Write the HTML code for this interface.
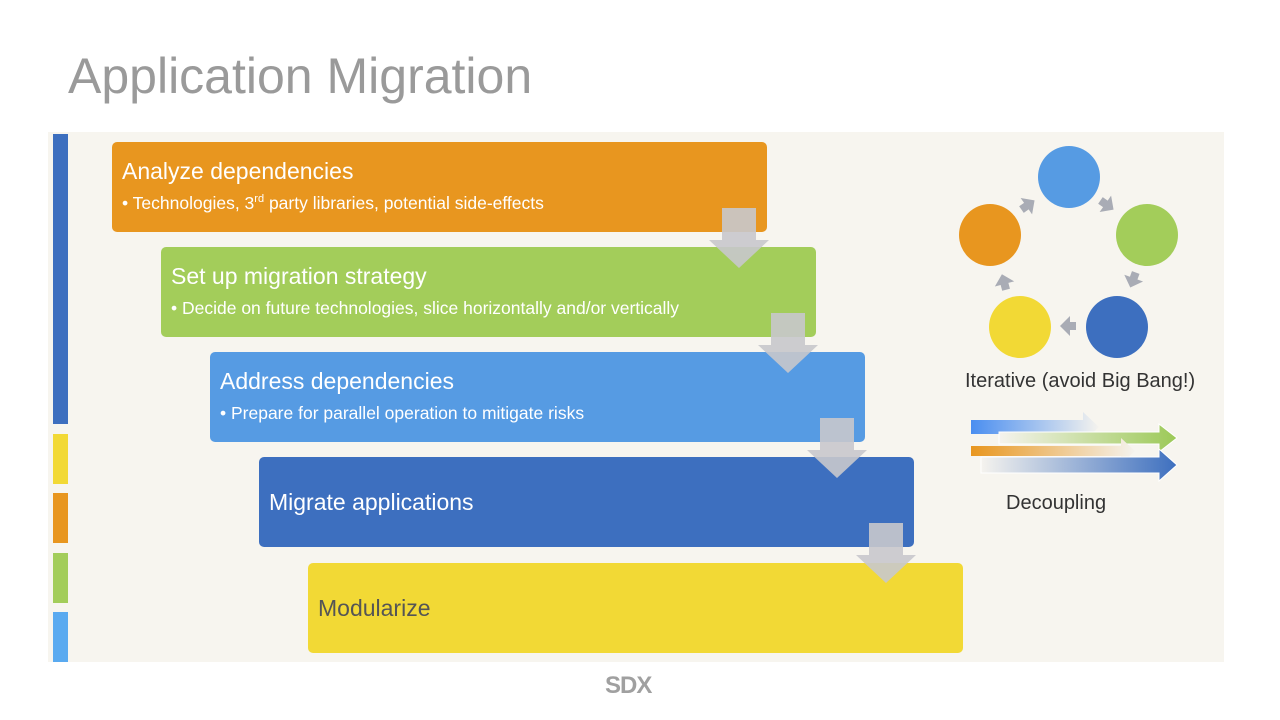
<!DOCTYPE html>
<html><head><style>
body{margin:0;width:1280px;height:720px;background:#fff;position:relative;overflow:hidden;font-family:"Liberation Sans",sans-serif}
.a{position:absolute}
.box{position:absolute;width:655px;height:90px;border-radius:5px;color:#fff;box-sizing:border-box;padding-left:10px}
.t{font-size:23px;margin-top:16px}
.s{font-size:17.5px;margin-top:8px}
</style></head><body>
<div class="a" style="left:68px;top:47px;font-size:50px;color:#9a9a9a">Application Migration</div>
<div class="a" style="left:48px;top:132px;width:1176px;height:530px;background:#f7f5ef"></div>
<div class="a" style="left:53px;top:134px;width:15px;height:290px;background:#3d6fbf"></div>
<div class="a" style="left:53px;top:434px;width:15px;height:50px;background:#f2d935"></div>
<div class="a" style="left:53px;top:493px;width:15px;height:50px;background:#e8961f"></div>
<div class="a" style="left:53px;top:553px;width:15px;height:50px;background:#a3cd5a"></div>
<div class="a" style="left:53px;top:612px;width:15px;height:50px;background:#5aaaf0"></div>

<div class="box" style="left:112px;top:142px;background:#e8961f"><div class="t">Analyze dependencies</div><div class="s">• Technologies, 3<sup style="font-size:11px">rd</sup> party libraries, potential side-effects</div></div>
<div class="box" style="left:161px;top:247px;background:#a3cd5a"><div class="t">Set up migration strategy</div><div class="s">• Decide on future technologies, slice horizontally and/or vertically</div></div>
<div class="box" style="left:210px;top:352px;background:#569be3"><div class="t">Address dependencies</div><div class="s">• Prepare for parallel operation to mitigate risks</div></div>
<div class="box" style="left:259px;top:457px;background:#3d6fbf"><div class="t" style="margin-top:32px">Migrate applications</div></div>
<div class="box" style="left:308px;top:563px;background:#f2d935;color:#555"><div class="t" style="margin-top:32px">Modularize</div></div>

<svg class="a" style="left:0;top:0" width="1280" height="720">
<defs>
<path id="ar" d="M-8 -4h6v-6l10 10l-10 10v-6h-6z"/>
<linearGradient id="g1"><stop offset="0" stop-color="#4a8ef0"/><stop offset="1" stop-color="#f5f3ee"/></linearGradient>
<linearGradient id="g2"><stop offset="0" stop-color="#f5f3ee"/><stop offset="1" stop-color="#9cc957"/></linearGradient>
<linearGradient id="g3"><stop offset="0" stop-color="#e8961f"/><stop offset="1" stop-color="#f5f3ee"/></linearGradient>
<linearGradient id="g4"><stop offset="0" stop-color="#f5f3ee"/><stop offset="1" stop-color="#3d6fbf"/></linearGradient>
</defs>
<g fill="#c8c8cc" opacity="0.9">
<path d="M722 208h34v32h13l-30 28l-30-28h13z"/>
<path d="M771 313h34v32h13l-30 28l-30-28h13z"/>
<path d="M820 418h34v32h13l-30 28l-30-28h13z"/>
<path d="M869 523h34v32h13l-30 28l-30-28h13z"/>
</g>
<circle cx="1069" cy="177" r="31" fill="#569be3"/>
<circle cx="1147" cy="235" r="31" fill="#a3cd5a"/>
<circle cx="1117" cy="327" r="31" fill="#3d6fbf"/>
<circle cx="1020" cy="327" r="31" fill="#f2d935"/>
<circle cx="990" cy="235" r="31" fill="#e8961f"/>
<g fill="#a9acb5">
<use href="#ar" transform="translate(1028,205) rotate(-35)"/>
<use href="#ar" transform="translate(1107,205) rotate(35)"/>
<use href="#ar" transform="translate(1133,280) rotate(110)"/>
<use href="#ar" transform="translate(1068,326) rotate(180)"/>
<use href="#ar" transform="translate(1004,282) rotate(-105)"/>
</g>
<path d="M971 420h112v-8l16 15l-16 15v-8h-112z" fill="url(#g1)"/>
<path d="M999 432h160v-8l18 14l-18 14v-8h-160z" fill="url(#g2)" stroke="#fff"/>
<path d="M971 446h150v-8l14 13l-14 13v-8h-150z" fill="url(#g3)"/>
<path d="M981 457h178v-8l18 16l-18 16v-8h-178z" fill="url(#g4)" stroke="#fff"/>
</svg>
<div class="a" style="left:965px;top:370px;font-size:20px;color:#333">Iterative (avoid Big Bang!)</div>
<div class="a" style="left:1006px;top:492px;font-size:20px;color:#333">Decoupling</div>
<div class="a" style="left:605px;top:672px;font-size:24px;font-weight:bold;color:#a0a0a0;letter-spacing:-1px">SDX</div>
</body></html>
